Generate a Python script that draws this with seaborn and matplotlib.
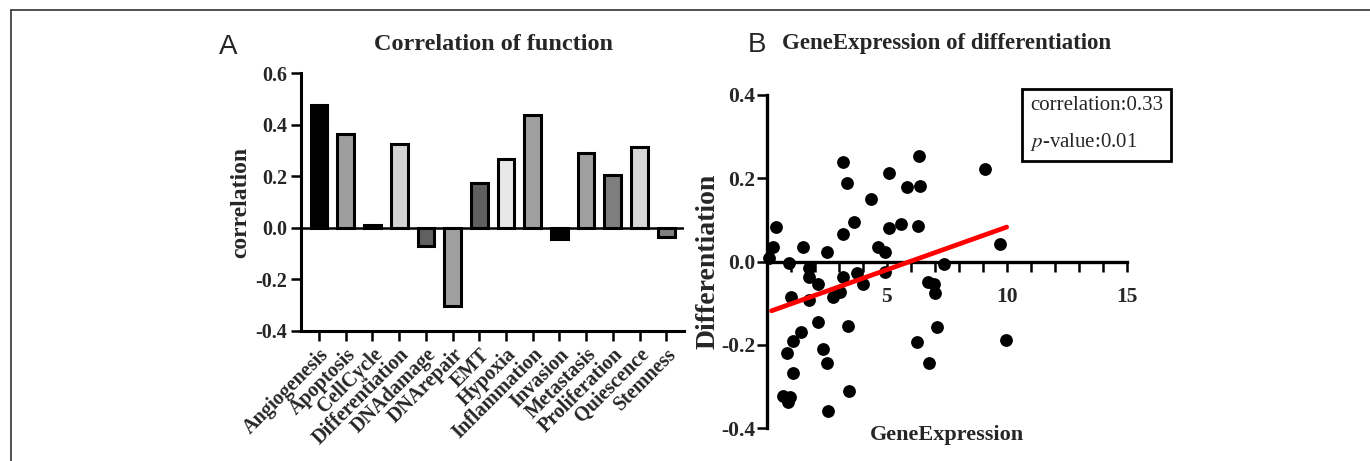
import numpy as np
import pandas as pd
import matplotlib
matplotlib.use("Agg")
import matplotlib.pyplot as plt
import seaborn as sns
from matplotlib.lines import Line2D
from matplotlib.ticker import FixedLocator, MultipleLocator, FormatStrFormatter

# ---------------- data ----------------
functions = ["Angiogenesis", "Apoptosis", "CellCycle", "Differentiation", "DNAdamage",
             "DNArepair", "EMT", "Hypoxia", "Inflammation", "Invasion", "Metastasis",
             "Proliferation", "Quiescence", "Stemness"]
correlations = [0.478, 0.363, 0.010, 0.325, -0.070, -0.303, 0.175, 0.266, 0.438,
                -0.044, 0.289, 0.205, 0.314, -0.036]
bar_colors = ["#000000", "#9e9e9e", "#303030", "#d3d3d3", "#606060", "#a0a0a0",
              "#606060", "#e8e8e8", "#a0a0a0", "#000000", "#a0a0a0", "#7f7f7f",
              "#d9d9d9", "#7f7f7f"]
corr_yticks = [-0.4, -0.2, 0.0, 0.2, 0.4, 0.6]

gene_expression = [0.10, 0.28, 0.37, 0.94, 1.00, 1.53, 1.75, 1.78, 1.75, 2.14,
                   2.14, 2.53, 2.78, 3.06, 3.19, 3.19, 3.19, 3.36, 3.64, 3.78,
                   4.03, 4.36, 4.65, 4.93, 4.93, 5.10, 5.10, 5.61, 5.86, 6.32,
                   6.35, 6.39, 6.74, 6.99, 7.01, 7.39, 9.10, 9.70, 3.40, 1.43,
                   1.11, 0.83, 2.33, 2.50, 1.11, 0.69, 0.97, 0.90, 3.44, 2.54,
                   7.08, 6.25, 9.97, 6.75]
differentiation = [0.008, 0.036, 0.082, -0.004, -0.085, 0.036, -0.016, -0.036, -0.092, -0.054,
                   -0.144, 0.024, -0.086, -0.074, -0.037, 0.066, 0.238, 0.188, 0.094, -0.028,
                   -0.054, 0.150, 0.035, 0.024, -0.026, 0.212, 0.080, 0.090, 0.178, 0.086,
                   0.254, 0.182, -0.048, -0.054, -0.076, -0.006, 0.222, 0.042, -0.154, -0.170,
                   -0.190, -0.220, -0.210, -0.244, -0.268, -0.322, -0.324, -0.338, -0.310, -0.358,
                   -0.158, -0.194, -0.188, -0.244]
fit_x = [0.2, 10.0]
fit_y = [-0.118, 0.083]
scatter_xticks = [5, 10, 15]
scatter_yticks = [-0.4, -0.2, 0.0, 0.2, 0.4]
stats_text = "correlation:0.33\n$p$-value:0.01"

# ---------------- style ----------------
sns.set_style("ticks")
plt.rcParams["font.family"] = ["Liberation Serif", "DejaVu Serif"]
plt.rcParams["mathtext.fontset"] = "stix"
plt.rcParams["axes.unicode_minus"] = False

W, H = 1370, 461
fig = plt.figure(figsize=(W / 100, H / 100), dpi=100)
fig.patch.set_facecolor("white")

# ---------------- panel A ----------------
axA = fig.add_axes([301 / W, (H - 330.7) / H, 382.6 / W, 257.4 / H])
dfA = pd.DataFrame({"function": functions, "correlation": correlations})
sns.barplot(data=dfA, x="function", y="correlation", hue="function",
            palette=bar_colors, legend=False, ax=axA, width=0.625,
            edgecolor="black", linewidth=2.2, saturation=1)
axA.axhline(0, color="black", lw=1.8, zorder=0.5)
axA.set_xlim(-0.675, 13.65)
axA.set_ylim(-0.4, 0.6)
axA.set_yticks(corr_yticks)
axA.yaxis.set_major_formatter(FormatStrFormatter("%.1f"))
axA.set_xticks(range(len(functions)))
axA.set_xticklabels(functions, rotation=45, ha="right", va="top",
                    rotation_mode="anchor", fontweight="bold", fontsize=14.5)
for lab in axA.get_yticklabels():
    lab.set_fontweight("bold")
axA.tick_params(axis="both", direction="out", length=7, width=1.8, color="black")
axA.tick_params(axis="y", labelsize=14.5, pad=3)
axA.tick_params(axis="x", pad=3)
for s in ["top", "right"]:
    axA.spines[s].set_visible(False)
for s in ["left", "bottom"]:
    axA.spines[s].set_linewidth(2.2)
    axA.spines[s].set_color("black")
axA.set_xlabel("")
axA.set_ylabel("correlation", fontsize=17, fontweight="bold", labelpad=3)

# ---------------- panel B ----------------
axB = fig.add_axes([766.7 / W, (H - 428.3) / H, 360 / W, 333.3 / H])
sns.scatterplot(x=gene_expression, y=differentiation, ax=axB, color="black",
                s=85, linewidth=0, clip_on=False, zorder=3)
sns.lineplot(x=fit_x, y=fit_y, ax=axB, color="#ff0000", lw=3.4, zorder=4)
axB.set_xlim(0, 15)
axB.set_ylim(-0.4, 0.4)
axB.spines["bottom"].set_position(("data", 0))
for s in ["top", "right"]:
    axB.spines[s].set_visible(False)
for s in ["left", "bottom"]:
    axB.spines[s].set_linewidth(2.4)
    axB.spines[s].set_color("black")
axB.xaxis.set_major_locator(FixedLocator(scatter_xticks))
axB.xaxis.set_minor_locator(MultipleLocator(1))
axB.set_yticks(scatter_yticks)
axB.yaxis.set_major_formatter(FormatStrFormatter("%.1f"))
axB.tick_params(axis="both", which="both", direction="out", length=7, width=1.8, color="black")
axB.tick_params(axis="x", which="major", labelsize=15.5, pad=11)
axB.tick_params(axis="y", labelsize=15.5, pad=1)
for lab in axB.get_xticklabels() + axB.get_yticklabels():
    lab.set_fontweight("bold")
axB.set_xlabel("GeneExpression", fontsize=16, fontweight="bold")
axB.xaxis.set_label_coords(0.5, 0.01)
axB.set_ylabel("Differentiation", fontsize=20, fontweight="bold", labelpad=1)

fig.text(1030 / W, 1 - 124.5 / H, stats_text, ha="left", va="center",
         fontsize=15, linespacing=1.95,
         bbox=dict(boxstyle="square,pad=0.4", fc="white", ec="black", lw=2))

# ---------------- titles / panel letters ----------------
fig.text(493 / W, 1 - 44 / H, "Correlation of function", ha="center", va="center",
         fontsize=17.5, fontweight="bold")
fig.text(946.7 / W, 1 - 44 / H, "GeneExpression of differentiation", ha="center",
         va="center", fontsize=16.5, fontweight="bold")
fig.text(228 / W, 1 - 47 / H, "A", ha="center", va="center", fontsize=20,
         family=["Liberation Sans", "DejaVu Sans"])
fig.text(757 / W, 1 - 45 / H, "B", ha="center", va="center", fontsize=20,
         family=["Liberation Sans", "DejaVu Sans"])

# outer frame (top and left edges)
fig.add_artist(Line2D([11 / W, 1.0], [1 - 10 / H, 1 - 10 / H], color="#333333", lw=1.2))
fig.add_artist(Line2D([11 / W, 11 / W], [0, 1 - 10 / H], color="#333333", lw=1.2))

fig.savefig("out.png", dpi=100, facecolor="white")
